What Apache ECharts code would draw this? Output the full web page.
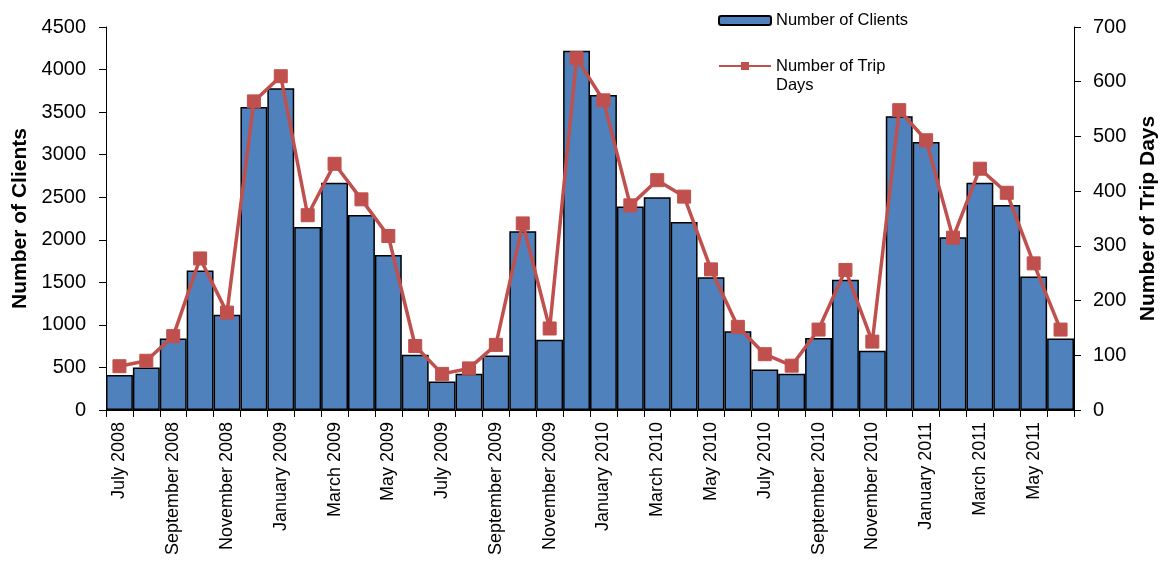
<!DOCTYPE html>
<html>
<head>
<meta charset="utf-8">
<script src="https://cdn.jsdelivr.net/npm/echarts@6/dist/echarts.min.js"></script>
<style>
html,body{margin:0;padding:0;background:#fff;}
#chart{width:1161px;height:561px;}
</style>
</head>
<body>
<div id="chart"></div>
<script>
const categories = ['July 2008','August 2008','September 2008','October 2008','November 2008','December 2008',
  'January 2009','February 2009','March 2009','April 2009','May 2009','June 2009',
  'July 2009','August 2009','September 2009','October 2009','November 2009','December 2009',
  'January 2010','February 2010','March 2010','April 2010','May 2010','June 2010',
  'July 2010','August 2010','September 2010','October 2010','November 2010','December 2010',
  'January 2011','February 2011','March 2011','April 2011','May 2011','June 2011'];
const clients = [410, 500, 840, 1640, 1120, 3560, 3780, 2150, 2670, 2290, 1820, 650,
  335, 425, 640, 2100, 825, 4220, 3700, 2390, 2500, 2210, 1560, 925,
  475, 425, 845, 1530, 695, 3450, 3150, 2030, 2670, 2410, 1570, 840];
const tripDays = [80, 90, 135, 277, 178, 564, 610, 356, 450, 385, 318, 117,
  66, 76, 119, 341, 149, 643, 566, 374, 420, 390, 257, 152,
  102, 81, 147, 256, 125, 548, 493, 315, 441, 397, 268, 147];
const seriesNames = ['Number of Clients', 'Number of Trip Days'];
const leftAxisName = 'Number of Clients';
const rightAxisName = 'Number of Trip Days';

const FONT = 'Liberation Sans, Arial, sans-serif';
const chart = echarts.init(document.getElementById('chart'), null, {renderer: 'canvas'});
chart.setOption({
  animation: false,
  backgroundColor: '#fff',
  textStyle: {fontFamily: FONT},
  grid: {left: 106, right: 87, top: 27, bottom: 151, containLabel: false, outerBoundsMode: 'none'},
  legend: [
    {
      data: [seriesNames[0]], orient: 'vertical', left: 718, top: 11, padding: 0,
      itemWidth: 52, itemHeight: 9, itemGap: 0,
      textStyle: {fontSize: 16.5, lineHeight: 19, color: '#000', fontFamily: FONT}
    },
    {
      data: [seriesNames[1]], orient: 'vertical', left: 718, top: 37.5, padding: 0,
      itemWidth: 52, itemHeight: 10, itemGap: 0,
      formatter: function () { return ' \nNumber of Trip\nDays'; },
      textStyle: {fontSize: 16.5, lineHeight: 19, color: '#000', fontFamily: FONT}
    }
  ],
  xAxis: {
    type: 'category',
    data: categories,
    boundaryGap: true,
    axisLine: {lineStyle: {color: '#000', width: 1}},
    axisTick: {show: true, interval: 0, length: 7, alignWithLabel: false, lineStyle: {color: '#000'}},
    axisLabel: {interval: 1, rotate: 90, margin: 12, fontSize: 18, color: '#000', fontFamily: FONT}
  },
  yAxis: [
    {
      type: 'value', min: 0, max: 4500, interval: 500, position: 'left',
      name: leftAxisName, nameLocation: 'middle', nameGap: 75, nameRotate: 90,
      nameTextStyle: {fontSize: 21, fontWeight: 'bold', color: '#000', fontFamily: FONT},
      axisLine: {show: true, lineStyle: {color: '#000', width: 1}},
      axisTick: {show: true, length: 7, lineStyle: {color: '#000'}},
      axisLabel: {fontSize: 20, color: '#000', margin: 20, fontFamily: FONT,
        formatter: function (v) { return String(v); }},
      splitLine: {show: false}
    },
    {
      type: 'value', min: 0, max: 700, interval: 100, position: 'right',
      name: rightAxisName, nameLocation: 'middle', nameGap: 60, nameRotate: 90,
      nameTextStyle: {fontSize: 21, fontWeight: 'bold', color: '#000', fontFamily: FONT},
      axisLine: {show: true, lineStyle: {color: '#000', width: 1}},
      axisTick: {show: true, length: 7, lineStyle: {color: '#000'}},
      axisLabel: {fontSize: 20, color: '#000', margin: 19, fontFamily: FONT,
        formatter: function (v) { return String(v); }},
      splitLine: {show: false}
    }
  ],
  series: [
    {
      name: seriesNames[0], type: 'bar', data: clients, yAxisIndex: 0,
      barCategoryGap: '0%', z: 2,
      itemStyle: {color: '#4F81BD', borderColor: '#000', borderWidth: 1.5}
    },
    {
      name: seriesNames[1], type: 'line', data: tripDays, yAxisIndex: 1, z: 3,
      symbol: 'rect', symbolSize: 13,
      lineStyle: {color: '#C0504D', width: 3.5},
      itemStyle: {color: '#C0504D', borderColor: '#C0504D'}
    }
  ]
});
</script>
</body>
</html>
